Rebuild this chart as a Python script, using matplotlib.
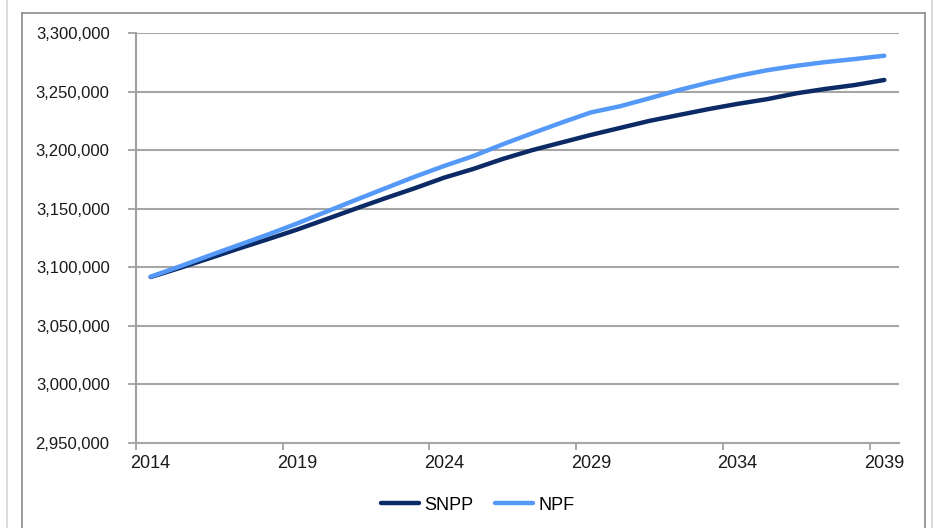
import matplotlib.pyplot as plt
from matplotlib.lines import Line2D
from matplotlib.ticker import FuncFormatter

plt.rcParams['font.family'] = ['Liberation Sans', 'DejaVu Sans']

years = list(range(2014, 2040))
snpp = [3091700, 3099500, 3107700, 3116000, 3124000, 3132300, 3141200, 3150200,
        3159000, 3167500, 3176500, 3184000, 3192500, 3200000, 3206500, 3213000,
        3219000, 3225000, 3230000, 3235000, 3239500, 3243500, 3248500, 3252300,
        3255600, 3259900]
npf = [3092000, 3100800, 3110000, 3119000, 3128000, 3137500, 3147600, 3157600,
       3167500, 3177300, 3186500, 3195000, 3205000, 3214400, 3223500, 3232200,
       3237500, 3244300, 3251300, 3257600, 3263300, 3268200, 3272000, 3275200,
       3277800, 3280600]
label_years = [2014, 2019, 2024, 2029, 2034, 2039]

W, H = 933, 528
fig = plt.figure(figsize=(W / 100, H / 100), dpi=100)
ax = fig.add_axes([136 / W, 1 - 443 / H, (899 - 136) / W, (443 - 33) / H])

ax.plot(years, snpp, color='#0c2b66', lw=3.2, label='SNPP', solid_capstyle='round')
ax.plot(years, npf, color='#5599f8', lw=3.2, label='NPF', solid_capstyle='round')

ax.set_xlim(years[0] - 0.5, years[-1] + 0.5)
ax.set_ylim(2950000, 3300000)
ax.set_yticks(range(2950000, 3300001, 50000))
ax.yaxis.set_major_formatter(FuncFormatter(lambda v, p: f'{int(v):,}'))

# ticks between categories, labels on categories
ax.set_xticks([y - 0.5 for y in label_years])
ax.set_xticklabels([])
ax.set_xticks(label_years, minor=True)
ax.set_xticklabels([str(y) for y in label_years], minor=True)
ax.tick_params(axis='x', which='major', length=5, width=1.3, color='#a0a0a0', direction='out')
ax.tick_params(axis='x', which='minor', length=0, pad=9, labelsize=13, labelcolor='#1a1a1a')
ax.tick_params(axis='y', length=6, width=1.3, color='#a0a0a0', direction='out', pad=13,
               labelsize=12, labelcolor='#1a1a1a')

ax.grid(axis='y', color='#a6a6a6', lw=1.5)
ax.set_axisbelow(True)
for s in ['top', 'right']:
    ax.spines[s].set_visible(False)
ax.spines['left'].set_color('#a0a0a0')
ax.spines['left'].set_linewidth(1.5)
ax.spines['bottom'].set_color('#a6a6a6')
ax.spines['bottom'].set_linewidth(1.5)

fig.legend(loc='center', bbox_to_anchor=(478 / W, 1 - 505 / H), ncol=2, frameon=False,
           fontsize=13, handlelength=2.1, handletextpad=0.3, columnspacing=1.2)

# chart frame
def fline(x0, y0, x1, y1, c, lw=1.2):
    fig.add_artist(Line2D([x0 / W, x1 / W], [1 - y0 / H, 1 - y1 / H],
                          transform=fig.transFigure, color=c, lw=lw))

fline(7, 0, 7, H, '#d4d4d4')
fline(22, 13, 22, H, '#8a8a8a')
fline(22, 13, 925, 13, '#8a8a8a')
fline(925, 13, 925, H, '#8a8a8a')
fline(932, 0, 932, H, '#d4d4d4')

fig.savefig('out.png', dpi=100)
